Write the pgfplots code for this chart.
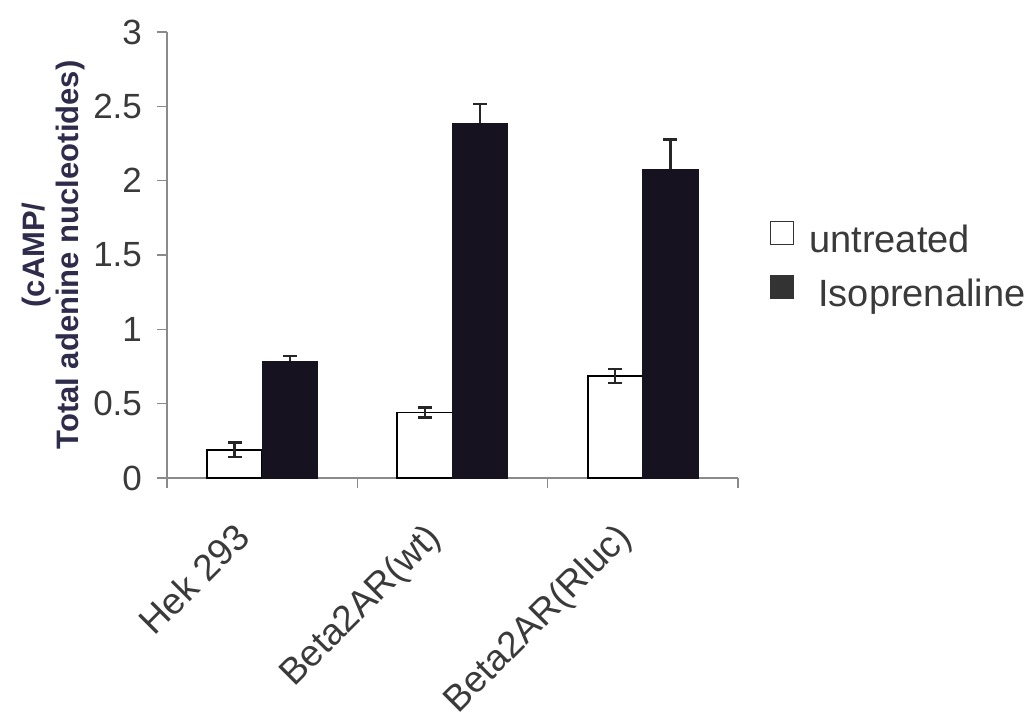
\documentclass[border=0pt]{standalone}
\usepackage{pgfplots}
\pgfplotsset{compat=1.18}
\usepackage{fontspec}
\setmainfont{Liberation Sans}
\definecolor{barfill}{HTML}{17121F}
\definecolor{txt}{HTML}{3A3A3A}
\definecolor{lab}{HTML}{2E2C4A}
\definecolor{axgray}{HTML}{8A8A8A}
\definecolor{legfill}{HTML}{333333}
\begin{document}
\begin{tikzpicture}
\useasboundingbox (-83.5pt,-123pt) rectangle (433.5pt,239pt);
\begin{axis}[
  at={(0,0)}, anchor=south west,
  scale only axis, width=285.5pt, height=223pt,
  xmin=-0.5, xmax=2.5, ymin=0, ymax=3,
  axis x line=bottom, axis y line=left,
  axis line style={-, draw=axgray, line width=0.6pt},
  tick align=outside,
  ytick={0,0.5,1,1.5,2,2.5,3},
  yticklabels={0,0.5,1,1.5,2,2.5,3},
  y tick label style={font=\fontsize{17.5}{21}\selectfont, text=txt, xshift=-4pt},
  y tick style={draw=axgray, line width=0.6pt},
  major tick length=5pt,
  xtick={0,1,2},
  xticklabels={Hek 293, Beta2AR(wt), Beta2AR(Rluc)},
  x tick label style={anchor=north east, font=\fontsize{18.5}{22}\selectfont, text=txt, inner sep=0pt, xshift=-14.5pt, yshift=-16pt, rotate=45},
  major x tick style={draw=none},
  extra x ticks={-0.5,0.5,1.5,2.5},
  extra x tick labels={},
  extra x tick style={major x tick style={draw=axgray, line width=0.6pt}, major tick length=5pt},
  ylabel={(cAMP/\\Total adenine nucleotides)},
  ylabel style={at={(axis description cs:-0.199,0.5)}, anchor=center, align=center, font=\fontsize{15.5}{17}\bfseries, text=lab},
  legend style={at={(axis description cs:1.056,0.472)}, anchor=west, draw=none, fill=none,
    inner sep=0pt, outer sep=0pt,
    nodes={inner sep=0pt, text height=14pt, text depth=4pt},
    font=\fontsize{19}{23}\selectfont, text=txt, row sep=7pt, column sep=0pt, legend cell align=left},
  clip=false,
]
\addplot[ybar, bar width=0.29, bar shift=0pt, fill=white, draw=black, line width=0.9pt,
  legend image code/.code={\draw[draw=black!80, fill=white, line width=0.7pt] (0pt,-1pt) rectangle (11.5pt,10.5pt);},
  error bars/.cd, y dir=both, y explicit,
  error bar style={line width=1.2pt, color=black!85},
  error mark options={rotate=90, mark size=3.5pt, line width=1.2pt, color=black!85}]
  coordinates {(-0.145,0.19) +- (0,0.05) (0.855,0.44) +- (0,0.034) (1.855,0.686) +- (0,0.048)};
\addlegendentry{\hspace{7.5pt}untreated}
\addplot[ybar, bar width=0.29, bar shift=0pt, fill=barfill, draw=barfill, line width=0.4pt,
  legend image code/.code={\draw[draw=legfill, fill=legfill] (0pt,-1pt) rectangle (11.5pt,10.5pt);},
  error bars/.cd, y dir=plus, y explicit,
  error bar style={line width=1.2pt, color=black!85},
  error mark options={rotate=90, mark size=3.5pt, line width=1.2pt, color=black!85}]
  coordinates {(0.145,0.787) +- (0,0.035) (1.145,2.385) +- (0,0.13) (2.145,2.077) +- (0,0.2)};
\addlegendentry{\hspace{12pt}Isoprenaline}
\end{axis}
\end{tikzpicture}
\end{document}
